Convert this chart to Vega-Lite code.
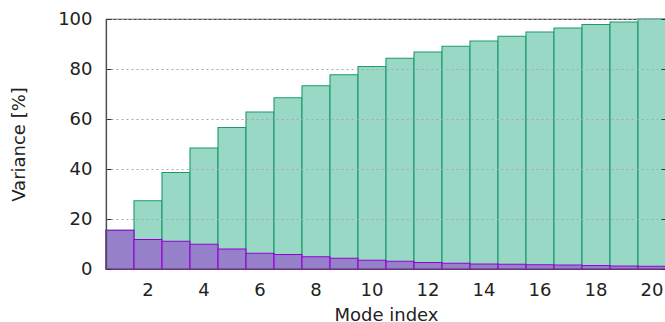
{
  "$schema": "https://vega.github.io/schema/vega-lite/v6.json",
  "autosize": "none",
  "padding": {"left": 106, "top": 19, "right": 10, "bottom": 60},
  "width": 560,
  "height": 250,
  "config": {
    "font": "DejaVu Sans",
    "view": {"stroke": "#4d4d4d", "strokeWidth": 1.2},
    "axis": {
      "labelFont": "DejaVu Sans",
      "titleFont": "DejaVu Sans",
      "labelFontSize": 18,
      "titleFontSize": 18,
      "titleFontWeight": "normal",
      "labelColor": "#222222",
      "titleColor": "#222222"
    }
  },
  "data": {
    "values": [
      {"mode": 1, "cumulative": 15.5, "individual": 15.5},
      {"mode": 2, "cumulative": 27.3, "individual": 11.8},
      {"mode": 3, "cumulative": 38.6, "individual": 11.1},
      {"mode": 4, "cumulative": 48.4, "individual": 9.9},
      {"mode": 5, "cumulative": 56.6, "individual": 8.0},
      {"mode": 6, "cumulative": 62.8, "individual": 6.3},
      {"mode": 7, "cumulative": 68.5, "individual": 5.8},
      {"mode": 8, "cumulative": 73.3, "individual": 4.9},
      {"mode": 9, "cumulative": 77.7, "individual": 4.3},
      {"mode": 10, "cumulative": 81.0, "individual": 3.5},
      {"mode": 11, "cumulative": 84.3, "individual": 3.1},
      {"mode": 12, "cumulative": 86.8, "individual": 2.6},
      {"mode": 13, "cumulative": 89.1, "individual": 2.3},
      {"mode": 14, "cumulative": 91.2, "individual": 2.0},
      {"mode": 15, "cumulative": 93.1, "individual": 1.9},
      {"mode": 16, "cumulative": 94.8, "individual": 1.7},
      {"mode": 17, "cumulative": 96.4, "individual": 1.6},
      {"mode": 18, "cumulative": 97.8, "individual": 1.4},
      {"mode": 19, "cumulative": 98.8, "individual": 1.2},
      {"mode": 20, "cumulative": 100.0, "individual": 1.1}
    ]
  },
  "encoding": {
    "x": {
      "field": "mode",
      "type": "ordinal",
      "scale": {"paddingInner": 0, "paddingOuter": 0},
      "axis": {
        "title": "Mode index",
        "values": [2, 4, 6, 8, 10, 12, 14, 16, 18, 20],
        "labelAngle": 0,
        "ticks": false,
        "labelPadding": 12,
        "labelBaseline": "top",
        "domain": true,
        "domainColor": "#4d4d4d",
        "domainWidth": 1.2,
        "zindex": 1,
        "titleX": 280,
        "titleY": 51.5,
        "titleBaseline": "alphabetic",
        "titleAlign": "center"
      }
    }
  },
  "layer": [
    {
      "mark": {"type": "bar", "fill": "#99d8c4", "stroke": "#1b9a6e", "strokeWidth": 1.1},
      "encoding": {
        "y": {
          "field": "cumulative",
          "type": "quantitative",
          "scale": {"domain": [0, 100], "nice": false},
          "axis": {
            "title": "Variance [%]",
            "values": [0, 20, 40, 60, 80, 100],
            "grid": true,
            "gridColor": "#a8a8a8",
            "gridDash": [2, 3],
            "gridWidth": 1,
            "tickSize": -5,
            "tickColor": "#333333",
            "labelPadding": 19,
            "domain": true,
            "domainColor": "#4d4d4d",
            "domainWidth": 1.2,
            "zindex": 1,
            "titleAngle": -90,
            "titleX": -87,
            "titleY": 125,
            "titleAlign": "center",
            "titleBaseline": "middle"
          }
        }
      }
    },
    {
      "mark": {"type": "bar", "fill": "#9580c9", "stroke": "#9400d3", "strokeWidth": 1.1},
      "encoding": {
        "y": {
          "field": "individual",
          "type": "quantitative",
          "scale": {"domain": [0, 100], "nice": false},
          "axis": {
            "orient": "right",
            "title": null,
            "labels": false,
            "grid": false,
            "domain": false,
            "values": [0, 20, 40, 60, 80, 100],
            "tickSize": -5,
            "tickColor": "#333333",
            "zindex": 1
          }
        }
      }
    }
  ],
  "resolve": {"axis": {"y": "independent"}}
}
